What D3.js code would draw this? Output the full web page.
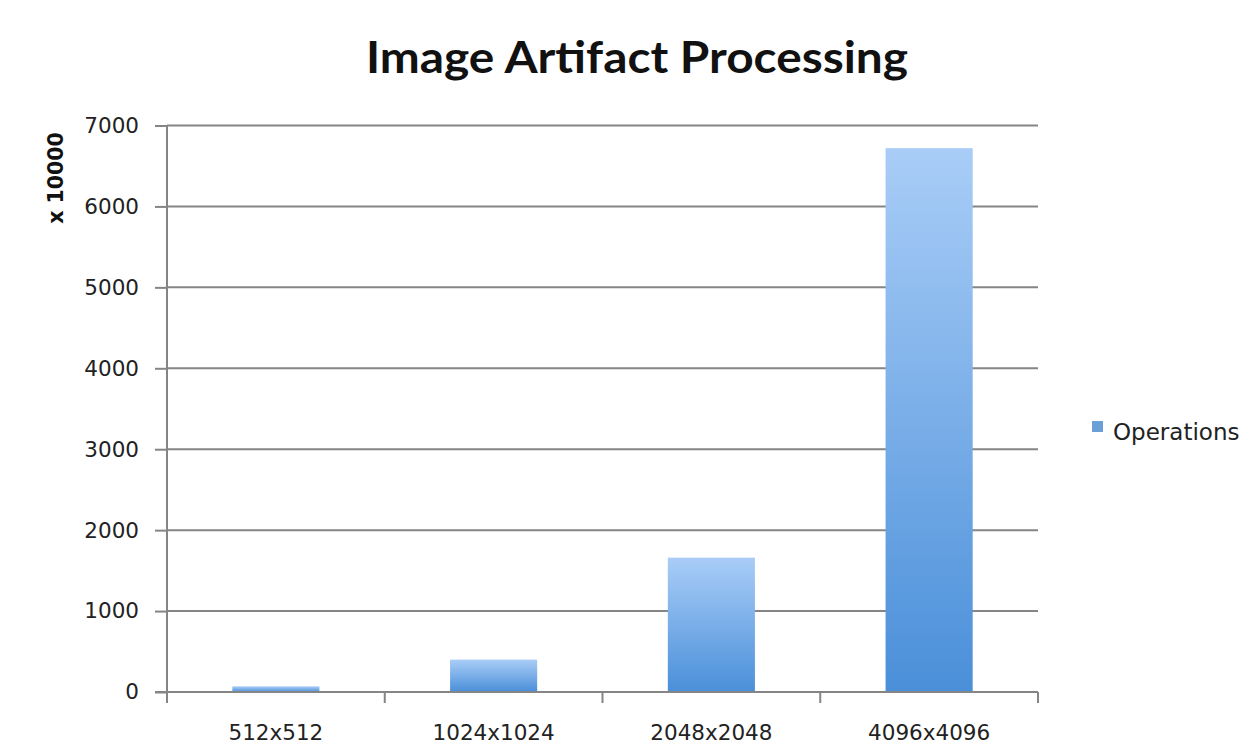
<!DOCTYPE html>
<html>
<head>
<meta charset="utf-8">
<script src="https://cdn.jsdelivr.net/npm/d3@7"></script>
<style>
  html, body { margin: 0; padding: 0; background: #ffffff; }
  svg { display: block; }
</style>
</head>
<body>
<svg id="chart" width="1249" height="748"></svg>
<script>
// Operation counts (in units of 10000) per image size
const categories = ["512x512", "1024x1024", "2048x2048", "4096x4096"];
const operations = [70, 400, 1660, 6720];
const yTickValues = [0, 1000, 2000, 3000, 4000, 5000, 6000, 7000];
const seriesName = "Operations";
const chartTitle = "Image Artifact Processing";
const yAxisLabel = "x 10000";

const svg = d3.select("#chart");
const plot = { left: 167, right: 1038, top: 125.5, bottom: 692 };
const gridColor = "#858585";
const textColor = "#222222";
const labelFont = "'DejaVu Sans', sans-serif";

const x = d3.scaleBand()
  .domain(categories)
  .range([plot.left, plot.right])
  .paddingInner(0.6)
  .paddingOuter(0.3);

const y = d3.scaleLinear()
  .domain([0, 7000])
  .range([plot.bottom, plot.top]);

// Bar fill: light blue at the top fading to a deeper blue at the base
const defs = svg.append("defs");
const grad = defs.append("linearGradient")
  .attr("id", "barFill")
  .attr("x1", 0).attr("y1", 0).attr("x2", 0).attr("y2", 1);
grad.append("stop").attr("offset", "0%").attr("stop-color", "#a9cdf7");
grad.append("stop").attr("offset", "100%").attr("stop-color", "#4a8fd9");

// Horizontal gridlines
svg.append("g")
  .selectAll("line")
  .data(yTickValues.filter(v => v > 0))
  .join("line")
  .attr("x1", plot.left)
  .attr("x2", plot.right)
  .attr("y1", d => y(d))
  .attr("y2", d => y(d))
  .attr("stroke", gridColor)
  .attr("stroke-width", 2);

// Bars
svg.append("g")
  .selectAll("rect")
  .data(categories.map((c, i) => ({ c, v: operations[i] })))
  .join("rect")
  .attr("x", d => x(d.c))
  .attr("width", x.bandwidth())
  .attr("y", d => y(d.v))
  .attr("height", d => y(0) - y(d.v))
  .attr("fill", "url(#barFill)");

// Y axis
const yAxis = svg.append("g")
  .attr("transform", `translate(${plot.left},0)`)
  .call(d3.axisLeft(y).tickValues(yTickValues).tickSize(12).tickPadding(16).tickFormat(d3.format("d")));
yAxis.select(".domain").attr("stroke", gridColor).attr("stroke-width", 2)
  .attr("d", `M0,${plot.top}V${plot.bottom + 10}`);
yAxis.selectAll(".tick line").attr("stroke", gridColor).attr("stroke-width", 2);
yAxis.selectAll(".tick text")
  .attr("fill", textColor)
  .style("font-family", labelFont)
  .style("font-size", "21.5px");

// X axis: labels at band centres, tick marks at band boundaries
const xAxis = svg.append("g")
  .attr("transform", `translate(0,${plot.bottom})`)
  .call(d3.axisBottom(x).tickSize(0).tickPadding(33));
xAxis.select(".domain").attr("stroke", gridColor).attr("stroke-width", 2)
  .attr("d", `M${plot.left - 12},0H${plot.right}`);
xAxis.selectAll(".tick text")
  .attr("fill", textColor)
  .style("font-family", labelFont)
  .style("font-size", "21.5px");

const step = x.step();
const boundaries = categories.map(c => x(c) - step * x.paddingInner() / 2)
  .concat([x(categories[categories.length - 1]) + x.bandwidth() + step * x.paddingInner() / 2]);
xAxis.append("g")
  .selectAll("line")
  .data(boundaries)
  .join("line")
  .attr("x1", d => d).attr("x2", d => d)
  .attr("y1", 0).attr("y2", 11)
  .attr("stroke", gridColor)
  .attr("stroke-width", 2);

// Title
svg.append("text")
  .attr("x", 637)
  .attr("y", 73)
  .attr("text-anchor", "middle")
  .attr("textLength", 542)
  .attr("lengthAdjust", "spacingAndGlyphs")
  .attr("fill", "#111")
  .style("font-family", "Lato, 'Open Sans', sans-serif")
  .style("font-weight", "bold")
  .style("font-size", "44px")
  .text(chartTitle);

// Y axis unit label
svg.append("text")
  .attr("transform", "translate(63,178) rotate(-90)")
  .attr("text-anchor", "middle")
  .attr("fill", "#111")
  .style("font-family", labelFont)
  .style("font-weight", "bold")
  .style("font-size", "20.5px")
  .text(yAxisLabel);

// Legend
const legend = svg.append("g").attr("transform", "translate(1092,421)");
legend.append("rect")
  .attr("width", 11).attr("height", 11)
  .attr("fill", "#6a9fd8");
legend.append("text")
  .attr("x", 21)
  .attr("y", 19)
  .attr("fill", textColor)
  .style("font-family", labelFont)
  .style("font-size", "23px")
  .text(seriesName);
</script>
</body>
</html>
